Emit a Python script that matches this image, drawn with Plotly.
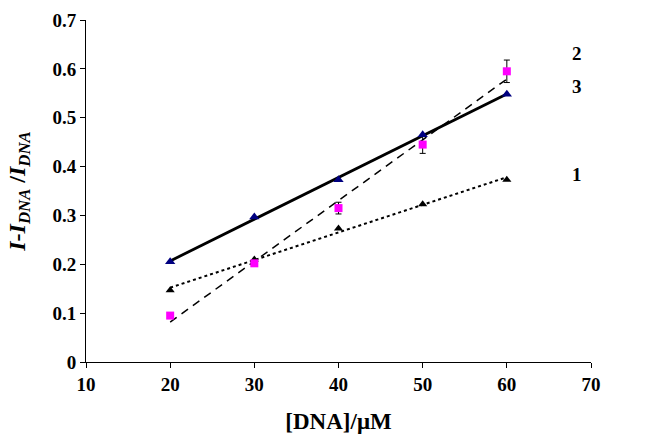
import numpy as np
import plotly.graph_objects as go

conc = [20, 30, 40, 50, 60]
s1 = [0.147, 0.210, 0.273, 0.323, 0.373]
s2 = [0.095, 0.202, 0.315, 0.445, 0.595]
s2_err = [0.0, 0.0, 0.012, 0.018, 0.023]
s3 = [0.205, 0.297, 0.373, 0.465, 0.548]
labels = ["1", "2", "3"]
label_y = [0.383, 0.632, 0.563]
xticks = [10, 20, 30, 40, 50, 60, 70]
yticks = [0, 0.1, 0.2, 0.3, 0.4, 0.5, 0.6, 0.7]
yticktext = ["0", "0.1", "0.2", "0.3", "0.4", "0.5", "0.6", "0.7"]

x = np.array(conc, dtype=float)

def fit(y):
    p = np.polyfit(x, np.array(y), 1)
    xs = np.array([x.min(), x.max()])
    return xs, np.polyval(p, xs)

fig = go.Figure()

fx, fy = fit(s1)
fig.add_trace(go.Scatter(x=fx, y=fy, mode="lines", line=dict(color="black", width=2, dash="dot"), showlegend=False))
fx, fy = fit(s2)
fig.add_trace(go.Scatter(x=fx, y=fy, mode="lines", line=dict(color="black", width=1.5, dash="8px,6px"), showlegend=False))
fx, fy = fit(s3)
fig.add_trace(go.Scatter(x=fx, y=fy, mode="lines", line=dict(color="black", width=2.8), showlegend=False))

fig.add_trace(go.Scatter(x=conc, y=s1, mode="markers",
                         marker=dict(symbol="triangle-up", size=8, color="black"), showlegend=False))
fig.add_trace(go.Scatter(x=conc, y=s2, mode="markers",
                         marker=dict(symbol="square", size=8, color="#FF00FF"),
                         error_y=dict(type="data", array=s2_err, color="black", thickness=1, width=3),
                         showlegend=False))
fig.add_trace(go.Scatter(x=conc, y=s3, mode="markers",
                         marker=dict(symbol="triangle-up", size=9, color="#000080"), showlegend=False))

for lab, ly in zip(labels, label_y):
    fig.add_annotation(x=68.3, y=ly, text=lab, showarrow=False,
                       font=dict(family="Liberation Serif", size=19, color="black", weight="bold"))

tf = dict(family="Liberation Serif", size=19, color="black", weight="bold")
fig.update_layout(
    width=660, height=434,
    margin=dict(l=86, r=69, t=20, b=72),
    plot_bgcolor="white", paper_bgcolor="white",
    font=dict(family="Liberation Serif", size=19, color="black"),
    xaxis=dict(range=[10, 70], tickvals=xticks, ticktext=[str(v) for v in xticks],
               tickfont=tf, automargin=False,
               showgrid=False, zeroline=False, showline=True, linecolor="black", linewidth=1,
               ticks="outside", ticklen=5, tickcolor="black",
               title=dict(text="[DNA]/μM", font=dict(family="Liberation Serif", size=23, weight="bold"), standoff=22)),
    yaxis=dict(range=[0, 0.7], tickvals=yticks, ticktext=yticktext,
               tickfont=tf, automargin=False,
               showgrid=False, zeroline=False, showline=True, linecolor="black", linewidth=1,
               ticks="outside", ticklen=5, tickcolor="black",
               title=dict(text="<i>I</i>-<i>I</i><sub><i>DNA</i></sub> /<i>I</i><sub><i>DNA</i></sub>",
                          font=dict(family="Liberation Serif", size=24, weight="bold"), standoff=20)),
)

fig.write_html("out.html")
